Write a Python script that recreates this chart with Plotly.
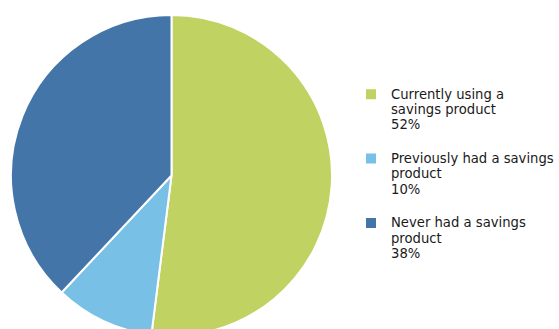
import plotly.graph_objects as go

# Savings product usage shares
labels = [
    "Currently using a<br>savings product",
    "Previously had a savings<br>product",
    "Never had a savings<br>product",
]
shares = [52, 10, 38]
colors = ["#C0D262", "#78C0E6", "#4475A8"]

# Legend entries: label, share, then a blank line as spacing between entries
legend_text = [
    "<br>".join(f'<span style="font-size:13.2px">{part}</span>' for part in (lab.split("<br>") + [f"{v}%"]))
    + "<br> "
    for lab, v in zip(labels, shares)
]

W, H = 559, 336
TOP = 15

fig = go.Figure(
    go.Pie(
        labels=legend_text,
        values=shares,
        sort=False,
        direction="clockwise",
        rotation=0,
        marker=dict(colors=colors, line=dict(color="white", width=2)),
        textinfo="none",
        hoverinfo="skip",
        domain=dict(x=[11 / W, 332 / W], y=[0, 1]),
    )
)

fig.update_layout(
    width=W,
    height=H,
    margin=dict(l=0, r=0, t=TOP, b=0),
    paper_bgcolor="white",
    plot_bgcolor="white",
    showlegend=True,
    legend=dict(
        x=351 / W,
        xanchor="left",
        y=1 - (80 - TOP) / (H - TOP),
        yanchor="top",
        valign="top",
        font=dict(family="DejaVu Sans", size=11.8, color="#1a1a1a"),
        bgcolor="rgba(0,0,0,0)",
        itemclick=False,
        itemdoubleclick=False,
    ),
)

fig.write_html(
    "out.html",
    config={"displayModeBar": False},
    post_script="document.documentElement.style.overflow='hidden';document.body.style.overflow='hidden';",
)
